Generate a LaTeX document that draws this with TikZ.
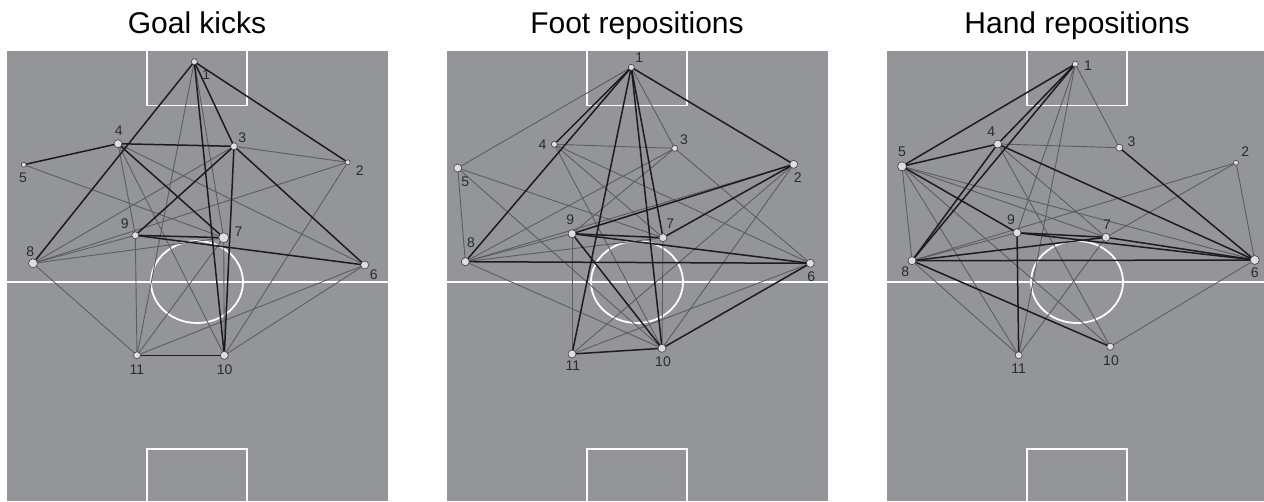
\documentclass[tikz,border=0pt]{standalone}
\usepackage{fontspec}
\setmainfont{Liberation Sans}
\pgfdeclarelayer{field}
\pgfdeclarelayer{links}
\pgfsetlayers{field,links,main}
\definecolor{turf}{RGB}{148,149,153}
\definecolor{thinlink}{RGB}{92,93,96}
\definecolor{thicklink}{RGB}{28,28,30}
\definecolor{labelink}{RGB}{40,42,55}
\definecolor{dotfill}{RGB}{222,222,224}
\tikzset{
  chalk/.style={draw=white, line width=1.8pt},
  heavy/.style={draw=thicklink, line width=1.5pt},
  light/.style={draw=thinlink, line width=0.9pt},
  player/.style={circle, inner sep=0pt, minimum size=#1, fill=dotfill, draw=black!75, line width=0.6pt},
  num/.style={font=\fontsize{14}{16}\selectfont, text=labelink, inner sep=0pt},
  heading/.style={font=\fontsize{30}{35}\selectfont, anchor=base, inner sep=0pt}
}
% one pitch: grey turf, halfway line, centre circle and two goal boxes
\newcommand\drawpitch[1]{%
  \begin{scope}[shift={(#1,0)}]
    \fill[turf] (0,51) rectangle (381,501);
    \draw[chalk] (0,282) -- (381,282);
    \draw[chalk] (140,51) -- (140,105.5) -- (240,105.5) -- (240,51);
    \draw[chalk] (140,501) -- (140,449) -- (240,449) -- (240,501);
    \draw[chalk] (190,282) ellipse [x radius=46, y radius=41];
  \end{scope}}
\begin{document}
\begin{tikzpicture}[x=1pt, y=-1pt]
\useasboundingbox (0,0) rectangle (1264,501);
\begin{pgfonlayer}{field}
  \drawpitch{7}
  \drawpitch{447}
  \drawpitch{887}
\end{pgfonlayer}

% titles
\node[heading] (t1) at (197,33) {Goal kicks};
\node[heading] (t2) at (637,33) {Foot repositions};
\node[heading] (t3) at (1077,33) {Hand repositions};

% ---- Goal kicks ----
\node[player=6pt] (a1) at (194.3,61.7) {};
\node[player=5pt] (a2) at (347.7,162.3) {};
\node[player=7pt] (a3) at (234,146.3) {};
\node[player=8pt] (a4) at (118,143.7) {};
\node[player=5pt] (a5) at (23.7,164.7) {};
\node[player=8pt] (a6) at (364.7,265) {};
\node[player=10pt] (a7) at (223.7,237.7) {};
\node[player=9pt] (a8) at (33,263.3) {};
\node[player=7pt] (a9) at (135.3,235.3) {};
\node[player=8pt] (a10) at (224.3,355.3) {};
\node[player=7pt] (a11) at (137,355.3) {};
\node[num] (a1t) at (206.3,75) {1};
\node[num] (a2t) at (359.7,170.7) {2};
\node[num] (a3t) at (242.3,137.3) {3};
\node[num] (a4t) at (118.7,131) {4};
\node[num] (a5t) at (23,177.7) {5};
\node[num] (a6t) at (373.7,274.5) {6};
\node[num] (a7t) at (238.5,231.7) {7};
\node[num] (a8t) at (30.3,251.2) {8};
\node[num] (a9t) at (124.7,224) {9};
\node[num] (a10t) at (224.7,369.5) {10};
\node[num] (a11t) at (137,369.5) {11};

% ---- Foot repositions ----
\node[player=6pt] (b1) at (631.3,67.3) {};
\node[player=8pt] (b2) at (793.7,164.3) {};
\node[player=6pt] (b3) at (674.7,148.3) {};
\node[player=6pt] (b4) at (554.3,144.3) {};
\node[player=8pt] (b5) at (457.7,168) {};
\node[player=8pt] (b6) at (810.3,263.3) {};
\node[player=8pt] (b7) at (663,237.7) {};
\node[player=8pt] (b8) at (465.3,261.7) {};
\node[player=8pt] (b9) at (572,233.7) {};
\node[player=8pt] (b10) at (662,348.3) {};
\node[player=8pt] (b11) at (572,354) {};
\node[num] (b1t) at (639.3,58) {1};
\node[num] (b2t) at (797.7,178) {2};
\node[num] (b3t) at (684,140) {3};
\node[num] (b4t) at (542.5,144.3) {4};
\node[num] (b5t) at (465.3,182) {5};
\node[num] (b6t) at (811.3,276.5) {6};
\node[num] (b7t) at (670.3,223.5) {7};
\node[num] (b8t) at (471,242.5) {8};
\node[num] (b9t) at (570.3,219.5) {9};
\node[num] (b10t) at (663,362) {10};
\node[num] (b11t) at (573,366) {11};

% ---- Hand repositions ----
\node[player=6pt] (c1) at (1075.3,64) {};
\node[player=5pt] (c2) at (1236,162.7) {};
\node[player=7pt] (c3) at (1119.3,147.7) {};
\node[player=8pt] (c4) at (997.7,144) {};
\node[player=9pt] (c5) at (902,166.3) {};
\node[player=9pt] (c6) at (1254.7,260) {};
\node[player=8pt] (c7) at (1106,237.3) {};
\node[player=8pt] (c8) at (912,260.7) {};
\node[player=8pt] (c9) at (1017,232.7) {};
\node[player=7pt] (c10) at (1110.3,346.7) {};
\node[player=7pt] (c11) at (1018.7,355.3) {};
\node[num] (c1t) at (1088,66) {1};
\node[num] (c2t) at (1245.3,152) {2};
\node[num] (c3t) at (1131.5,141.7) {3};
\node[num] (c4t) at (991.3,132) {4};
\node[num] (c5t) at (902,152) {5};
\node[num] (c6t) at (1254.7,273) {6};
\node[num] (c7t) at (1107,224.5) {7};
\node[num] (c8t) at (905.3,272) {8};
\node[num] (c9t) at (1011,219.5) {9};
\node[num] (c10t) at (1111,360.5) {10};
\node[num] (c11t) at (1018.7,368.5) {11};

\begin{pgfonlayer}{links}
  % Goal kicks
  \foreach \u/\v in {1/11,1/7,3/2,4/6,5/7,4/9,4/10,9/11,3/8,2/8,2/10,8/9,8/7,8/11,6/11,6/10,7/10,11/7}
    \draw[light] (a\u.center) -- (a\v.center);
  \foreach \u/\v in {1/8,1/2,1/3,1/10,4/5,4/3,4/7,3/9,3/6,9/7,9/6,11/10,3/10}
    \draw[heavy] (a\u.center) -- (a\v.center);
  % Foot repositions
  \foreach \u/\v in {1/5,1/3,5/8,5/7,4/3,4/7,4/6,4/10,3/8,3/9,3/6,2/8,2/11,2/10,8/9,8/7,8/10,9/11,11/6,10/7,5/10}
    \draw[light] (b\u.center) -- (b\v.center);
  \foreach \u/\v in {1/2,1/4,1/8,1/11,1/10,1/7,2/9,2/7,9/7,9/10,8/6,9/6,10/6,10/11}
    \draw[heavy] (b\u.center) -- (b\v.center);
  % Hand repositions
  \foreach \u/\v in {1/3,4/3,1/9,1/11,2/8,2/7,2/6,5/8,5/11,5/10,5/7,5/6,4/7,4/10,8/9,8/11,7/11,6/10}
    \draw[light] (c\u.center) -- (c\v.center);
  \foreach \u/\v in {1/5,1/4,1/8,4/8,5/4,5/9,4/6,3/6,9/7,9/6,7/6,8/6,8/7,8/10,9/11}
    \draw[heavy] (c\u.center) -- (c\v.center);
\end{pgfonlayer}
\end{tikzpicture}
\end{document}
